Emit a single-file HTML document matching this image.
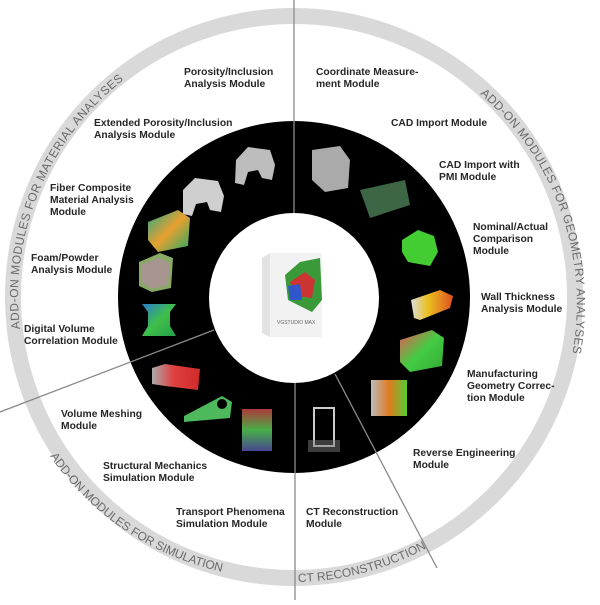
<!DOCTYPE html>
<html><head><meta charset="utf-8"><style>
html,body{margin:0;padding:0;background:#fff;}
.l{font-family:"Liberation Sans",sans-serif;font-weight:bold;font-size:10.3px;fill:#262626;}
.r{font-family:"Liberation Sans",sans-serif;font-size:12px;fill:#6a6a6a;}
</style></head><body>
<svg width="600" height="600" viewBox="0 0 600 600" xmlns="http://www.w3.org/2000/svg">
<defs>
<linearGradient id="g1" x1="0" y1="0" x2="1" y2="1"><stop offset="0" stop-color="#2a7bd0"/><stop offset=".5" stop-color="#3fbf4a"/><stop offset="1" stop-color="#25a04a"/></linearGradient>
<linearGradient id="g2" x1="0" y1="0" x2="1" y2="0"><stop offset="0" stop-color="#aaa"/><stop offset=".45" stop-color="#e04040"/><stop offset="1" stop-color="#d02a2a"/></linearGradient>
<linearGradient id="g3" x1="0" y1="0" x2="0" y2="1"><stop offset="0" stop-color="#c44"/><stop offset=".5" stop-color="#5c5"/><stop offset="1" stop-color="#55a"/></linearGradient>
<linearGradient id="g4" x1="0" y1="0" x2="1" y2="0"><stop offset="0" stop-color="#bbb"/><stop offset=".5" stop-color="#e07a20"/><stop offset="1" stop-color="#5c3"/></linearGradient>
<linearGradient id="g5" x1="0" y1="0" x2="1" y2="1"><stop offset="0" stop-color="#e55"/><stop offset=".5" stop-color="#4c4"/><stop offset="1" stop-color="#3a3"/></linearGradient>
<linearGradient id="g6" x1="0" y1="0" x2="1" y2="0"><stop offset="0" stop-color="#ddd"/><stop offset=".4" stop-color="#e9c020"/><stop offset="1" stop-color="#e05020"/></linearGradient>
<linearGradient id="g7" x1="0" y1="0" x2="1" y2="1"><stop offset="0" stop-color="#2a8"/><stop offset=".5" stop-color="#e8a030"/><stop offset="1" stop-color="#2a6"/></linearGradient>
<path id="pL" d="M 20 329 A 276 276 0 0 1 140 68"/>
<path id="pR" d="M 480 94 A 276 276 0 0 1 570 365"/>
<path id="pS" d="M 50 456 A 283 283 0 0 0 228 573"/>
<path id="pC" d="M 298 582 A 283 283 0 0 0 432 545"/>
</defs>
<circle cx="294" cy="297" r="281" fill="none" stroke="#d9d9d9" stroke-width="16"/>
<circle cx="294" cy="297" r="176" fill="#000"/>
<circle cx="294" cy="298" r="85" fill="#fff"/>
<!-- lines -->
<line x1="294" y1="0" x2="294" y2="213" stroke="#8a8a8a" stroke-width="1.3"/>
<line x1="295" y1="383" x2="295" y2="600" stroke="#8a8a8a" stroke-width="1.3"/>
<line x1="214" y1="330" x2="0" y2="412" stroke="#8a8a8a" stroke-width="1.3"/>
<line x1="335" y1="374" x2="437" y2="568" stroke="#8a8a8a" stroke-width="1.3"/>
<!-- ring labels -->
<text class="r"><textPath href="#pL" textLength="282" lengthAdjust="spacing">ADD-ON MODULES FOR MATERIAL ANALYSES</textPath></text>
<text class="r"><textPath href="#pR" textLength="288" lengthAdjust="spacing">ADD-ON MODULES FOR GEOMETRY ANALYSES</textPath></text>
<text class="r"><textPath href="#pS" textLength="212" lengthAdjust="spacing">ADD-ON MODULES FOR SIMULATION</textPath></text>
<text class="r"><textPath href="#pC" textLength="134" lengthAdjust="spacing">CT RECONSTRUCTION</textPath></text>
<!-- images -->
<path d="M236 160 L248 147 L270 150 L275 165 L272 180 L262 178 L258 170 L248 172 L244 185 L235 183 Z" fill="#bdbdbd"/>
<path d="M183 190 L195 178 L218 181 L224 196 L221 212 L210 210 L207 202 L196 204 L192 216 L183 214 Z" fill="#cfcfcf"/>
<path d="M148 222 L178 210 L190 218 L188 246 L158 252 L148 240 Z" fill="url(#g7)"/>
<path d="M139 262 L160 253 L173 258 L171 288 L152 292 L139 286 Z" fill="#8a6"/>
<path d="M141 265 L158 258 L170 263 L168 285 L152 289 L142 283 Z" fill="#b8a" opacity=".6"/>
<path d="M142 304 L176 304 L170 312 L170 326 L176 336 L142 336 L148 326 L148 312 Z" fill="url(#g1)"/>
<path d="M152 368 L165 364 L200 369 L198 390 L165 386 L152 384 Z" fill="url(#g2)"/>
<path d="M184 416 L205 405 L222 396 L232 402 L230 418 L184 422 Z" fill="#5c6" opacity=".9"/>
<circle cx="222" cy="404" r="5" fill="#000"/>
<rect x="242" y="409" width="30" height="42" fill="url(#g3)" opacity=".85"/>
<rect x="314" y="408" width="20" height="38" fill="none" stroke="#ccc" stroke-width="2"/>
<rect x="308" y="440" width="32" height="12" fill="#777" opacity=".5"/>
<rect x="371" y="380" width="36" height="36" fill="url(#g4)"/>
<path d="M400 340 L432 330 L444 338 L442 366 L410 372 L400 362 Z" fill="url(#g5)"/>
<path d="M411 300 L440 290 L453 296 L450 308 L420 320 L414 318 Z" fill="url(#g6)"/>
<path d="M402 240 L418 230 L434 236 L438 252 L430 266 L408 262 L402 252 Z" fill="#4c3"/>
<path d="M360 190 L405 180 L410 205 L370 218 Z" fill="#6a7" opacity=".6"/>
<path d="M312 150 L340 146 L350 160 L348 188 L325 192 L312 180 Z" fill="#aaa"/>
<!-- center box -->
<path d="M262 258 L270 253 L270 337 L262 333 Z" fill="#e2e2e2"/>
<rect x="270" y="253" width="52" height="84" fill="#f2f2f2"/>
<path d="M285 275 L300 262 L320 258 L322 300 L312 312 L298 305 L288 300 Z" fill="#3a9a3a"/>
<path d="M290 282 L305 272 L315 280 L312 298 L296 296 Z" fill="#c33"/>
<path d="M288 286 L300 284 L302 300 L290 300 Z" fill="#35c"/>
<text x="277" y="324" font-family="Liberation Sans,sans-serif" font-size="5" fill="#666">VGSTUDIO MAX</text>
<!-- labels -->
<text class="l"><tspan x="184" y="75">Porosity/Inclusion</tspan><tspan x="184" y="87">Analysis Module</tspan></text>
<text class="l"><tspan x="94" y="126">Extended Porosity/Inclusion</tspan><tspan x="94" y="138">Analysis Module</tspan></text>
<text class="l"><tspan x="50" y="191">Fiber Composite</tspan><tspan x="50" y="203">Material Analysis</tspan><tspan x="50" y="215">Module</tspan></text>
<text class="l"><tspan x="31" y="261">Foam/Powder</tspan><tspan x="31" y="273">Analysis Module</tspan></text>
<text class="l"><tspan x="24" y="332">Digital Volume</tspan><tspan x="24" y="344">Correlation Module</tspan></text>
<text class="l"><tspan x="61" y="417">Volume Meshing</tspan><tspan x="61" y="429">Module</tspan></text>
<text class="l"><tspan x="103" y="469">Structural Mechanics</tspan><tspan x="103" y="481">Simulation Module</tspan></text>
<text class="l"><tspan x="176" y="515">Transport Phenomena</tspan><tspan x="176" y="527">Simulation Module</tspan></text>
<text class="l"><tspan x="306" y="515">CT Reconstruction</tspan><tspan x="306" y="527">Module</tspan></text>
<text class="l"><tspan x="413" y="456">Reverse Engineering</tspan><tspan x="413" y="468">Module</tspan></text>
<text class="l"><tspan x="467" y="377">Manufacturing</tspan><tspan x="467" y="389">Geometry Correc-</tspan><tspan x="467" y="401">tion Module</tspan></text>
<text class="l"><tspan x="481" y="300">Wall Thickness</tspan><tspan x="481" y="312">Analysis Module</tspan></text>
<text class="l"><tspan x="473" y="230">Nominal/Actual</tspan><tspan x="473" y="242">Comparison</tspan><tspan x="473" y="254">Module</tspan></text>
<text class="l"><tspan x="439" y="168">CAD Import with</tspan><tspan x="439" y="180">PMI Module</tspan></text>
<text class="l"><tspan x="391" y="126">CAD Import Module</tspan></text>
<text class="l"><tspan x="316" y="75">Coordinate Measure-</tspan><tspan x="316" y="87">ment Module</tspan></text>
</svg>
</body></html>
